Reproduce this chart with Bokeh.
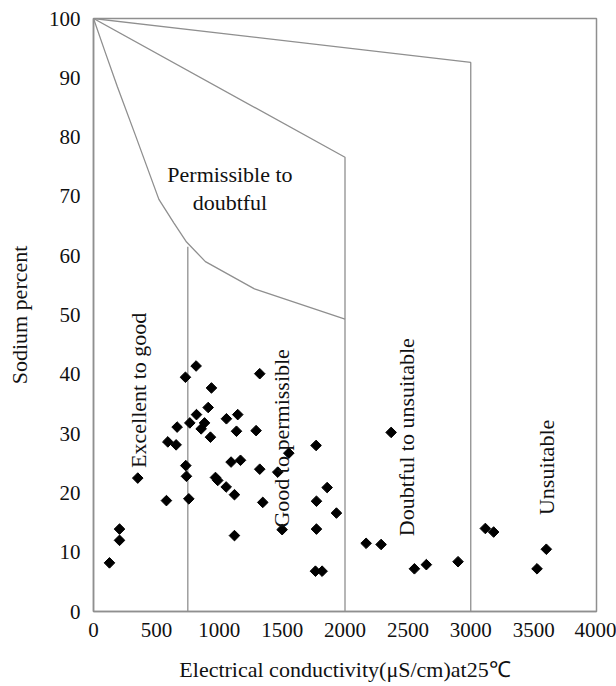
import math
from bokeh.plotting import figure
from bokeh.models import ColumnDataSource, FixedTicker
from bokeh.core.properties import value
from bokeh.embed import file_html
from bokeh.resources import INLINE

# ---- sample data (EC in uS/cm, Na %) ----
ec = [127, 207, 207, 352, 580, 591, 657, 665, 734, 739, 758, 766, 819, 912, 883,
      856, 930, 1057, 1147, 1137, 1293, 1094, 1169, 970, 988, 1055, 1121, 1121,
      1322, 1346, 1465, 1553, 1500, 1770, 1858, 1773, 1932, 1773, 1765, 1818,
      816, 731, 938, 1322,
      2367, 2168, 2287, 2552, 2647, 2899, 3116, 3182, 3601, 3527]
na = [8.2, 13.9, 12.0, 22.5, 18.7, 28.6, 28.1, 31.1, 24.6, 22.8, 19.0, 31.8, 33.2, 34.4, 31.8,
      30.8, 29.4, 32.5, 33.2, 30.4, 30.5, 25.2, 25.5, 22.6, 22.1, 21.0, 19.7, 12.8,
      24.0, 18.4, 23.5, 26.7, 13.8, 28.0, 20.9, 18.6, 16.6, 13.9, 6.8, 6.8,
      41.4, 39.5, 37.7, 40.1,
      30.2, 11.5, 11.3, 7.2, 7.9, 8.4, 14.0, 13.4, 10.5, 7.2]

# ---- Wilcox class boundaries ----
unsuit_x = [0, 3000, 3000]
unsuit_y = [100, 92.6, 0]
doubt_x = [0, 2000, 2000]
doubt_y = [100, 76.6, 0]
perm_x = [0, 90, 190, 330, 520, 640, 740, 890, 1280, 2000]
perm_y = [100, 94.5, 88.5, 80.5, 69.5, 65.5, 62.3, 59, 54.4, 49.3]
good_x = [750, 750]
good_y = [61.5, 0]

# ---- class labels ----
lab_text = ["Permissible to\ndoubtful", "Excellent to good", "Good to permissible",
            "Doubtful to unsuitable", "Unsuitable"]
lab_x = [1085, 358, 1494, 2488, 3601]
lab_y = [71.3, 37.3, 29.2, 29.4, 24.3]
lab_angle = [0, math.pi / 2, math.pi / 2, math.pi / 2, math.pi / 2]

x_ticks = [0, 500, 1000, 1500, 2000, 2500, 3000, 3500, 4000]
y_ticks = [0, 10, 20, 30, 40, 50, 60, 70, 80, 90, 100]

FONT = "Liberation Serif"
GRAY = "#8f8f8f"

p = figure(width=616, height=686, x_range=(0, 4000), y_range=(0, 100),
           output_backend="svg", toolbar_location=None,
           min_border_left=93, min_border_right=20, min_border_top=18,
           min_border_bottom=75)
p.background_fill_color = "white"
p.border_fill_color = "white"
p.outline_line_color = GRAY
p.outline_line_width = 1.5
p.xgrid.visible = False
p.ygrid.visible = False

for ax in (p.xaxis[0], p.yaxis[0]):
    ax.major_tick_line_color = None
    ax.minor_tick_line_color = None
    ax.major_tick_out = 0
    ax.major_tick_in = 0
    ax.axis_line_color = GRAY
    ax.axis_line_width = 1.5
    ax.major_label_text_font = FONT
    ax.major_label_text_font_size = "21px"
    ax.major_label_text_color = "#111111"
    ax.axis_label_text_font = FONT
    ax.axis_label_text_font_size = "22px"
    ax.axis_label_text_font_style = "normal"
    ax.axis_label_text_color = "#111111"

p.xaxis.ticker = FixedTicker(ticks=x_ticks)
p.yaxis.ticker = FixedTicker(ticks=y_ticks)
p.xaxis.axis_label = "Electrical conductivity(\u03bcS/cm)at25\u2103"
p.yaxis.axis_label = "Sodium percent"
p.xaxis.major_label_standoff = 11
p.xaxis.axis_label_standoff = 17
p.yaxis.major_label_standoff = 13
p.yaxis.axis_label_standoff = 14

for xs, ys in ((unsuit_x, unsuit_y), (doubt_x, doubt_y), (perm_x, perm_y), (good_x, good_y)):
    p.line(xs, ys, line_color=GRAY, line_width=1.3)

p.scatter(ec, na, marker="square", angle=math.pi / 4, size=7.5,
          fill_color="black", line_color="black")

src = ColumnDataSource(dict(x=lab_x, y=lab_y, text=lab_text, angle=lab_angle))
p.text(x="x", y="y", text="text", angle="angle", source=src,
       text_font=value(FONT), text_font_size="22px", text_color="#111111",
       text_align="center", text_baseline="middle", text_line_height=1.1)

open("out.html", "w").write(file_html(p, INLINE))
